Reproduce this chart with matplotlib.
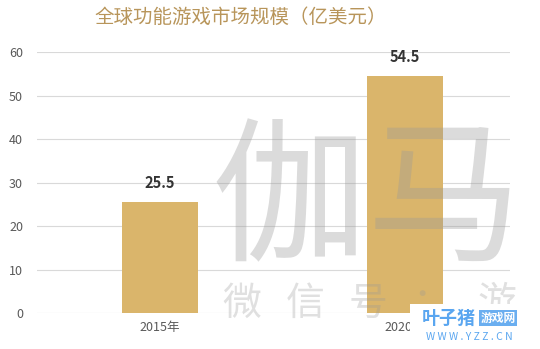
import matplotlib.pyplot as plt
from matplotlib.patches import Rectangle

plt.rcParams['font.family'] = ['Noto Sans CJK SC', 'DejaVu Sans']

years = ["2015年", "2020年"]
market_size = [25.5, 54.5]
y_ticks = [0, 10, 20, 30, 40, 50, 60]

fig = plt.figure(figsize=(5.4, 3.49), dpi=100)
ax = fig.add_axes([0.0685, 0.103, 0.876, 0.748])

x = list(range(len(years)))
ax.bar(x, market_size, width=0.31, color="#dab56b", zorder=2)
for xi, v in zip(x, market_size):
    ax.text(xi, v + 2.5, f"{v}", ha="center", va="bottom",
            fontsize=10.5, fontweight="bold", color="#333333", zorder=3)

ax.set_xlim(-0.5, 1.43)
ax.set_ylim(0, 60)
ax.set_yticks(y_ticks)
ax.set_xticks(x)
ax.set_xticklabels(years)
ax.grid(axis="y", color="#d9d9d9", linewidth=0.8, zorder=0)
for s in ax.spines.values():
    s.set_visible(False)
ax.tick_params(axis="both", length=0, labelsize=9, colors="#595959")
ax.tick_params(axis="y", pad=10)
ax.tick_params(axis="x", pad=6)

fig.text(0.445, 0.951, "全球功能游戏市场规模（亿美元）", ha="center", va="center",
         fontsize=14, color="#b8955a")

# watermarks
fig.text(0.68, 0.413, "伽马", ha="center", va="center", fontsize=112,
         fontweight="light", color="#999999", alpha=0.35, zorder=5)
for cx, ch in zip([0.448, 0.565, 0.682, 0.80, 0.92], "微信号：游"):
    fig.text(cx, 0.13, ch, ha="center", va="center", fontsize=28,
             fontweight="light", color="#999999", alpha=0.3, zorder=5)

# site logo, bottom right
fig.patches.append(Rectangle((0.76, 0), 0.24, 0.13, transform=fig.transFigure,
                             facecolor="white", edgecolor="none", zorder=6))
fig.text(0.831, 0.089, "叶子猪", ha="center", va="center", fontsize=13,
         fontweight="bold", color="#5aa6f0", zorder=7)
fig.text(0.922, 0.089, "游戏网", ha="center", va="center", fontsize=8.5,
         fontweight="bold", color="white", zorder=7,
         bbox=dict(facecolor="#6aaef0", edgecolor="none", pad=1.2))
fig.text(0.869, 0.034, "W W W . Y Z Z . C N", ha="center", va="center",
         fontsize=7.5, color="#5aa6f0", zorder=7)

fig.savefig("out.png", dpi=100)
